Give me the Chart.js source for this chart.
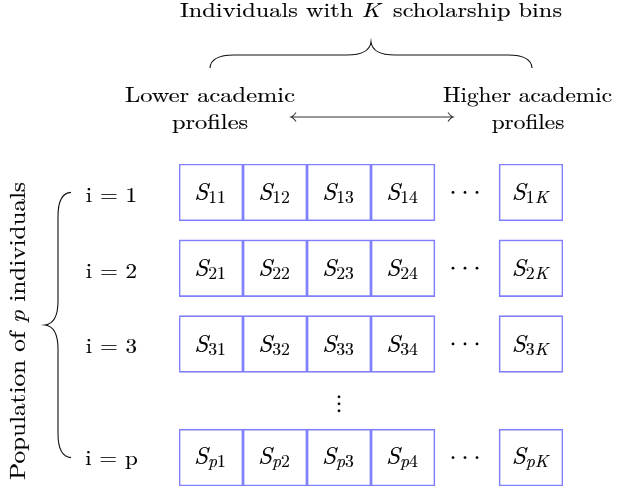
<!DOCTYPE html>
<html>
<head>
<meta charset="utf-8">
<script src="https://cdn.jsdelivr.net/npm/chart.js@4.4.1/dist/chart.umd.min.js"></script>
<style>
  html, body { margin: 0; padding: 0; background: #fff; }
  #wrap { width: 621px; height: 490px; position: relative; }
</style>
</head>
<body>
<div id="wrap"><canvas id="binsChart"></canvas></div>
<script>
// columns: scholarship bins ('⋯' stands for the bins left out)
const binLabels = ['1', '2', '3', '4', '⋯', 'K']
// rows: individuals ('p' is the last one)
const rowLabels = ['1', '2', '3', 'p']
const titleRuns = ['Individuals with ', 'K', '\u2009 scholarship bins']
const lowerLines = ['Lower academic', 'profiles']
const higherLines = ['Higher academic', 'profiles']
const sideRuns = ['Population of ', 'p', ' individuals']

const BOX_BLUE = '#8080ff'
const INK = '#000'
const SERIF = '"Latin Modern Roman", "Liberation Serif", serif'
const TEXT_STRETCH = 1.18
const BOX_HALF = 0.375

// row i sits at i, the last row gets an extra half step for the skipped rows
const rowPos = rowLabels.map((r, i) => (i === rowLabels.length - 1 ? i + 0.5 : i))

function font(size, italic) {
  return (italic ? 'italic ' : '') + size + 'px ' + SERIF
}

function drawRuns(ctx, runs, cx, opts) {
  let w = 0
  let top = 0
  let bottom = 0
  const placed = runs.map((r) => {
    ctx.font = font(r.size, r.italic)
    const m = ctx.measureText(r.text)
    const dy = r.dy || 0
    if (r.text.trim()) {
      top = Math.min(top, dy - m.actualBoundingBoxAscent)
      bottom = Math.max(bottom, dy + m.actualBoundingBoxDescent)
    }
    const out = { ...r, dy, x: w }
    w += m.width
    return out
  })
  const sx = opts.width ? opts.width / w : opts.stretch || TEXT_STRETCH
  const baseline =
    opts.baseline !== undefined ? opts.baseline : opts.middle - (top + bottom) / 2 + (opts.shift || 0)
  ctx.save()
  ctx.translate(cx - (w * sx) / 2, baseline)
  ctx.scale(sx, 1)
  ctx.fillStyle = INK
  ctx.strokeStyle = INK
  ctx.lineWidth = 0.15
  ctx.textAlign = 'left'
  ctx.textBaseline = 'alphabetic'
  placed.forEach((r) => {
    ctx.font = font(r.size, r.italic)
    ctx.fillText(r.text, r.x, r.dy)
    ctx.strokeText(r.text, r.x, r.dy)
  })
  ctx.restore()
  return sx
}

// curly brace along local +x, bulging to local -y
function drawBrace(ctx, x0, y0, x1, y1) {
  const L = Math.hypot(x1 - x0, y1 - y0)
  const h = L / 2
  ctx.save()
  ctx.translate(x0, y0)
  ctx.rotate(Math.atan2(y1 - y0, x1 - x0))
  ctx.beginPath()
  ctx.moveTo(0, 0)
  ctx.bezierCurveTo(0.5, -8, 8, -13, 24, -13)
  ctx.lineTo(h - 24, -13)
  ctx.bezierCurveTo(h - 8, -13, h - 1, -18, h, -26)
  ctx.bezierCurveTo(h + 1, -18, h + 8, -13, h + 24, -13)
  ctx.lineTo(L - 24, -13)
  ctx.bezierCurveTo(L - 8, -13, L - 0.5, -8, L, 0)
  ctx.strokeStyle = '#111'
  ctx.lineWidth = 1.1
  ctx.stroke()
  ctx.restore()
}

function dot(ctx, x, y) {
  ctx.beginPath()
  ctx.arc(x, y, 1.4, 0, Math.PI * 2)
  ctx.fill()
}

const diagramLabels = {
  id: 'diagramLabels',
  afterDatasetsDraw(chart) {
    const { ctx } = chart
    const x = chart.scales.x
    const y = chart.scales.y
    const gapIdx = binLabels.indexOf('⋯')

    // cell labels S_ij
    rowLabels.forEach((r, i) => {
      const cy = y.getPixelForValue(rowPos[i])
      binLabels.forEach((b, j) => {
        if (j === gapIdx) return
        const sub = (r + b).split('').map((c) => ({
          text: c, size: 17, italic: /[a-zA-Z]/.test(c), dy: 3,
        }))
        drawRuns(ctx, [{ text: 'S', size: 24, italic: true }, ...sub],
          x.getPixelForValue(j) - 1, { middle: cy, stretch: 1.04, shift: 1 })
      })
      // horizontal dots in the gap column
      ctx.fillStyle = INK
      const gx = x.getPixelForValue(gapIdx) - 2
      ;[-12, 0, 12].forEach((d) => dot(ctx, gx + d, cy))
      // row name
      drawRuns(ctx, [{ text: 'i = ' + r, size: 21 }], 111.5, { middle: cy, shift: 2.5, stretch: 1.1 })
    })

    // vertical dots between row 3 and row p
    const vx = x.getPixelForValue(2)
    const vy = y.getPixelForValue(rowPos[2] + 0.79)
    ctx.fillStyle = INK
    ;[-7, 0, 7].forEach((d) => dot(ctx, vx, vy + d))

    // title and top brace
    drawRuns(ctx, titleRuns.map((t, k) => ({ text: t, size: 20, italic: k === 1 })),
      371, { baseline: 17, width: 382 })
    drawBrace(ctx, x.getPixelForValue(0) - 1, 68, x.getPixelForValue(binLabels.length - 1) + 1, 68)

    // profile labels and double arrow
    const sl = drawRuns(ctx, [{ text: lowerLines[0], size: 21 }], 210, { baseline: 102, width: 170 })
    drawRuns(ctx, [{ text: lowerLines[1], size: 21 }], 210, { baseline: 128.5, stretch: sl })
    const sh = drawRuns(ctx, [{ text: higherLines[0], size: 21 }], 527.5, { baseline: 102, width: 169 })
    drawRuns(ctx, [{ text: higherLines[1], size: 21 }], 528, { baseline: 128.5, stretch: sh })
    ctx.save()
    ctx.strokeStyle = '#333'
    ctx.lineWidth = 1.1
    ctx.beginPath()
    ctx.moveTo(291, 117)
    ctx.lineTo(453, 117)
    ctx.moveTo(296, 112.5)
    ctx.quadraticCurveTo(293, 116.5, 291, 117)
    ctx.quadraticCurveTo(293, 117.5, 296, 121.5)
    ctx.moveTo(448, 112.5)
    ctx.quadraticCurveTo(451, 116.5, 453, 117)
    ctx.quadraticCurveTo(451, 117.5, 448, 121.5)
    ctx.stroke()
    ctx.restore()

    // left brace and rotated population label
    const top = y.getPixelForValue(rowPos[0])
    const bot = y.getPixelForValue(rowPos[rowPos.length - 1])
    drawBrace(ctx, 71, bot, 71, top)
    ctx.save()
    ctx.translate(25, (top + bot) / 2 + 6)
    ctx.rotate(-Math.PI / 2)
    drawRuns(ctx, sideRuns.map((t, k) => ({ text: t, size: 22, italic: k === 1 })),
      0, { baseline: 0, width: 298 })
    ctx.restore()
  },
}

const datasets = rowLabels.map((r, i) => ({
  label: 'i = ' + r,
  data: binLabels.map((b) => (b === '⋯' ? null : [rowPos[i] - BOX_HALF, rowPos[i] + BOX_HALF])),
  backgroundColor: '#fff',
  borderColor: BOX_BLUE,
  borderWidth: 1.7,
  borderSkipped: false,
  barPercentage: 1,
  categoryPercentage: 1,
  grouped: false,
}))

new Chart(document.getElementById('binsChart').getContext('2d'), {
  type: 'bar',
  data: { labels: binLabels, datasets },
  options: {
    responsive: true,
    maintainAspectRatio: false,
    animation: false,
    layout: { padding: { left: 179, right: 58, top: 164, bottom: 4 } },
    plugins: {
      legend: { display: false },
      tooltip: { enabled: false },
      title: { display: false },
    },
    scales: {
      x: { display: false, offset: true },
      y: {
        display: false,
        reverse: true,
        min: rowPos[0] - BOX_HALF,
        max: rowPos[rowPos.length - 1] + BOX_HALF,
      },
    },
  },
  plugins: [diagramLabels],
})
</script>
</body>
</html>
